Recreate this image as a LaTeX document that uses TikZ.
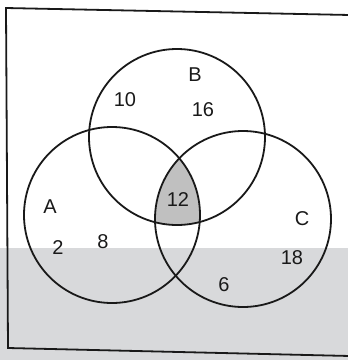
\documentclass[tikz,border=0pt]{standalone}
\usepackage{fontspec}
\setmainfont{Liberation Sans}
\usetikzlibrary{positioning}
\definecolor{bandgray}{RGB}{216,217,219}
\definecolor{shadegray}{RGB}{192,192,192}
\begin{document}
\begin{tikzpicture}[x=1pt, y=-1pt, line width=1.8pt, font=\fontsize{20}{23}\selectfont,
    setcircle/.style={draw=black!90},
    num/.style={inner sep=1pt, text=black!90}]
  \useasboundingbox (0,0) rectangle (348,360);
  \fill[bandgray] (0,248) rectangle (348,360);
  \coordinate (cA) at (112,215);
  \coordinate (cB) at (177,137);
  \coordinate (cC) at (243,219);
  % middle part shaded
  \begin{scope}
    \clip (cA) circle (88);
    \clip (cB) circle (88);
    \fill[shadegray] (cC) circle (88);
  \end{scope}
  \draw[black!90] (350,15) -- (6,8) -- (8,348) -- (350,356);
  \draw[setcircle] (cA) circle (88);
  \draw[setcircle] (cB) circle (88);
  \draw[setcircle] (cC) circle (88);
  \node[num] (labA) at (50,207) {A};
  \node[num] (labB) at (195,75) {B};
  \node[num] (labC) at (302,219) {C};
  \node[num] (nA1) at (58,248) {2};
  \node[num] (nA2) at (103,242) {8};
  \node[num] (nB1) at (125,100) {10};
  \node[num] (nB2) at (203,110) {16};
  \node[num] (nABC) at (178,200) {12};
  \node[num] (nC1) at (292,258) {18};
  \node[num] (nC2) at (224,285) {6};
\end{tikzpicture}
\end{document}
